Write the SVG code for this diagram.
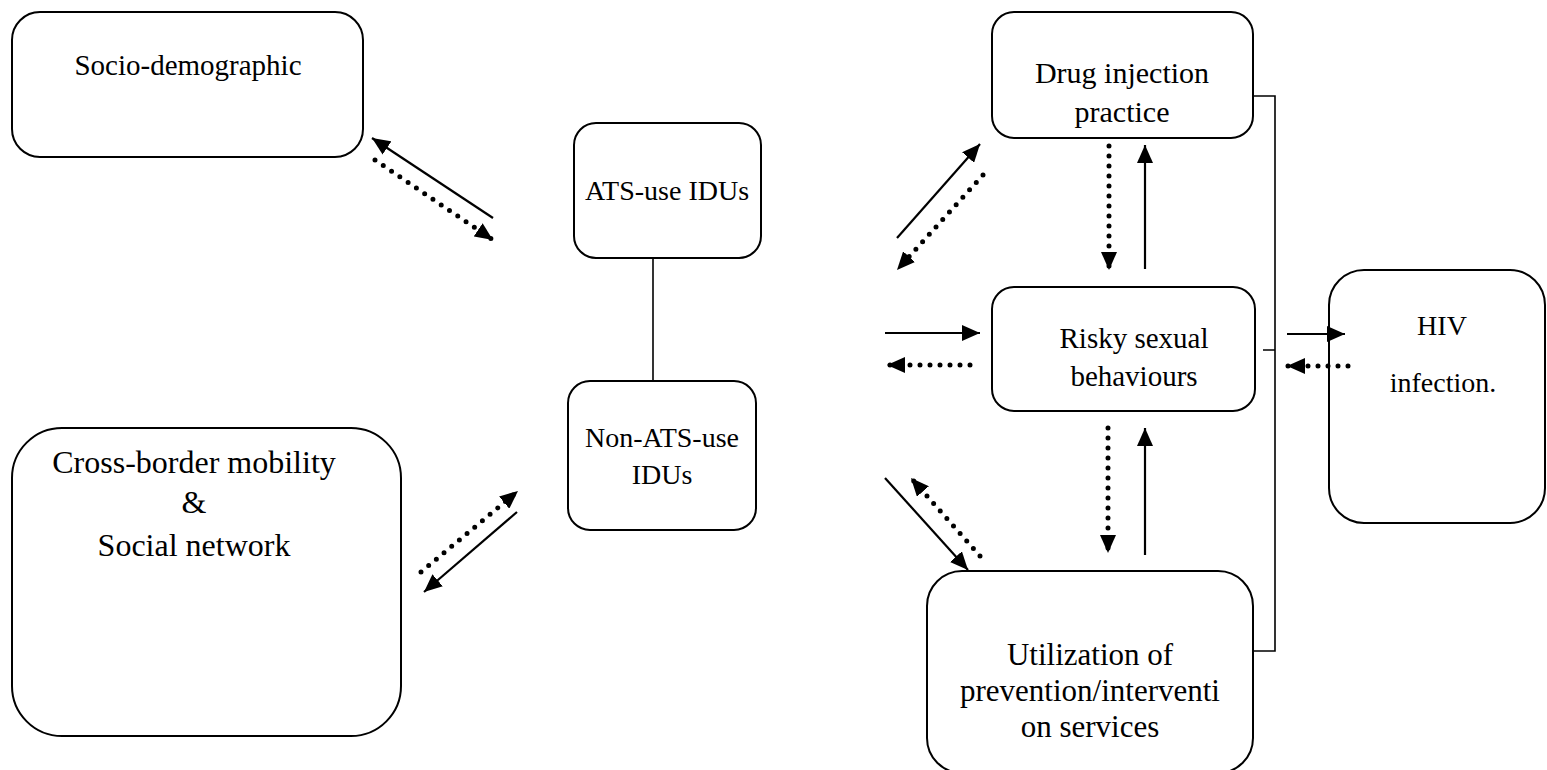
<svg xmlns="http://www.w3.org/2000/svg" width="1547" height="770" viewBox="0 0 1547 770">
<style>
.box{fill:#fff;stroke:#000;stroke-width:2}
.t{font-family:"Liberation Serif","Times New Roman",serif;font-size:28px;fill:#000;text-anchor:middle}
.s{fill:none;stroke:#000;stroke-width:2.2}
.d{fill:none;stroke:#000;stroke-width:5;stroke-linecap:round;stroke-dasharray:0 10}
.ln{fill:none;stroke:#000;stroke-width:1.6}
</style>
<defs>
<marker id="ah" markerUnits="userSpaceOnUse" markerWidth="20" markerHeight="16" refX="18" refY="8" orient="auto">
<path d="M0,0 L18,8 L0,16 z" fill="#000"/>
</marker>
</defs>
<rect width="1547" height="770" fill="#fff"/>
<g id="socio"><rect class="box" x="12" y="12" width="351" height="145" rx="28"/><text class="t" x="188" y="75" style="font-size:29px">Socio-demographic</text></g>
<g id="ats"><rect class="box" x="574" y="123" width="187" height="135" rx="22"/><text class="t" x="667" y="200">ATS-use IDUs</text></g>
<g id="nonats"><rect class="box" x="568" y="381" width="188" height="149" rx="22"/><text class="t" x="662" y="447">Non-ATS-use</text><text class="t" x="662" y="484">IDUs</text></g>
<g id="cross"><rect class="box" x="12" y="428" width="389" height="308" rx="50"/><text class="t" x="194" y="473" style="font-size:32px">Cross-border mobility</text><text class="t" x="194" y="513" style="font-size:32px">&amp;</text><text class="t" x="194" y="556" style="font-size:32px">Social network</text></g>
<g id="drug"><rect class="box" x="992" y="12" width="261" height="126" rx="22"/><text class="t" x="1122" y="83" style="font-size:30px">Drug injection</text><text class="t" x="1122" y="122" style="font-size:30px">practice</text></g>
<g id="risky"><rect class="box" x="992" y="287" width="263" height="124" rx="22"/><text class="t" x="1134" y="348" style="font-size:29px">Risky sexual</text><text class="t" x="1134" y="386" style="font-size:29px">behaviours</text></g>
<g id="hiv"><rect class="box" x="1329" y="270" width="216" height="253" rx="35"/><text class="t" x="1442" y="335">HIV</text><text class="t" x="1443" y="392">infection.</text></g>
<g id="util"><rect class="box" x="927" y="571" width="326" height="202" rx="35"/><text class="t" x="1090" y="665" style="font-size:31px">Utilization of</text><text class="t" x="1090" y="701" style="font-size:31px">prevention/interventi</text><text class="t" x="1090" y="737" style="font-size:31px">on services</text></g>
<g id="connectors">
<path class="ln" d="M653,258 V381"/>
<path class="ln" d="M1253,96 H1275 V651 H1253 M1263,350 H1275"/>
<path class="s" d="M493,218 L372,138" marker-end="url(#ah)"/>
<path class="d" d="M375,160 L493,240" marker-end="url(#ah)"/>
<path class="d" d="M421,572 L518,491" marker-end="url(#ah)"/>
<path class="s" d="M517,512 L424,592" marker-end="url(#ah)"/>
<path class="s" d="M897,238 L980,144" marker-end="url(#ah)"/>
<path class="d" d="M983,175 L897,270" marker-end="url(#ah)"/>
<path class="s" d="M885,333 L980,333" marker-end="url(#ah)"/>
<path class="d" d="M970,365 L887,365" marker-end="url(#ah)"/>
<path class="s" d="M885,478 L968,570" marker-end="url(#ah)"/>
<path class="d" d="M980,556 L911,478" marker-end="url(#ah)"/>
<path class="d" d="M1109,146 L1109,270" marker-end="url(#ah)"/>
<path class="s" d="M1145,269 L1145,145" marker-end="url(#ah)"/>
<path class="d" d="M1108,428 L1108,553" marker-end="url(#ah)"/>
<path class="s" d="M1145,555 L1145,428" marker-end="url(#ah)"/>
<path class="s" d="M1287,334 L1345,334" marker-end="url(#ah)"/>
<path class="d" d="M1348,366 L1287,366" marker-end="url(#ah)"/>
</g>
</svg>
